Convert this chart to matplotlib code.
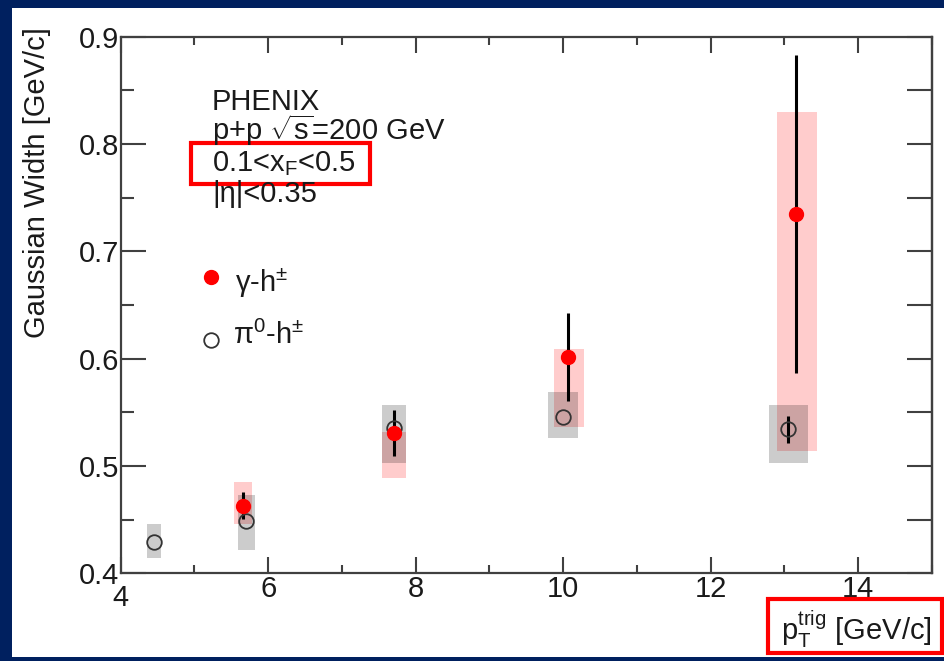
import numpy as np
import matplotlib
matplotlib.use("Agg")
import matplotlib.pyplot as plt
from matplotlib.patches import Rectangle
from matplotlib.transforms import ScaledTranslation

plt.rcParams["font.family"] = ["Liberation Sans", "DejaVu Sans"]
plt.rcParams["mathtext.fontset"] = "custom"
plt.rcParams["mathtext.rm"] = "Liberation Sans"
plt.rcParams["mathtext.it"] = "Liberation Sans:italic"
plt.rcParams["mathtext.sf"] = "Liberation Sans"

# gamma-h widths vs trigger pT
gamma_pt = [5.66, 7.71, 10.07, 13.16]
gamma_width = [0.463, 0.531, 0.602, 0.735]
gamma_stat = [0.0125, 0.0215, 0.041, 0.148]
gamma_sys_lo = [0.446, 0.4885, 0.536, 0.514]
gamma_sys_hi = [0.485, 0.532, 0.609, 0.830]
gamma_box_pt = [5.655, 7.71, 10.08, 13.17]
gamma_box_hw = [0.125, 0.16, 0.2, 0.275]

# pi0-h widths vs trigger pT
pi0_pt = [4.45, 5.70, 7.71, 10.0, 13.055]
pi0_width = [0.429, 0.449, 0.535, 0.5455, 0.534]
pi0_stat = [0.0, 0.0, 0.0, 0.0, 0.0128]
pi0_sys_lo = [0.4147, 0.422, 0.503, 0.526, 0.503]
pi0_sys_hi = [0.4455, 0.473, 0.557, 0.569, 0.5564]
pi0_box_hw = [0.095, 0.115, 0.16, 0.2, 0.26]

NAVY = "#00205f"
TXT = "#1a1a1a"
FS = 21

fig = plt.figure(figsize=(9.45, 6.61), dpi=100, facecolor=NAVY)
W, H = 945.0, 661.0
fig.patches.append(Rectangle((12 / W, 1 - 657 / H), 1 - 12 / W, (657 - 8) / H,
                             transform=fig.transFigure, facecolor="white",
                             edgecolor="none", zorder=-10))

ax = fig.add_axes([120.7 / W, 1 - 573.3 / H, (931.8 - 120.7) / W, (573.3 - 36.7) / H])
ax.set_facecolor("none")
ax.set_xlim(4, 15)
ax.set_ylim(0.4, 0.9)

# systematic boxes
for x, lo, hi, hw in zip(gamma_box_pt, gamma_sys_lo, gamma_sys_hi, gamma_box_hw):
    ax.add_patch(Rectangle((x - hw, lo), 2 * hw, hi - lo, facecolor="red",
                           alpha=0.2, edgecolor="none", zorder=1))
for x, lo, hi, hw in zip(pi0_pt, pi0_sys_lo, pi0_sys_hi, pi0_box_hw):
    ax.add_patch(Rectangle((x - hw, lo), 2 * hw, hi - lo, facecolor="black",
                           alpha=0.2, edgecolor="none", zorder=1))

# statistical errors and points
ax.errorbar(pi0_pt, pi0_width, yerr=pi0_stat, fmt="none", ecolor="black",
            elinewidth=2.2, capsize=0, zorder=2)
ax.errorbar(gamma_pt, gamma_width, yerr=gamma_stat, fmt="none", ecolor="black",
            elinewidth=2.2, capsize=0, zorder=2)
ax.plot(pi0_pt, pi0_width, "o", ms=10.5, mfc="none", mec="#333333", mew=1.3, zorder=3)
ax.plot(gamma_pt, gamma_width, "o", ms=10, mfc="red", mec="red", zorder=4)

for s in ax.spines.values():
    s.set_color("#404040")
    s.set_linewidth(1.6)

ax.set_xticks(np.arange(4, 15, 2))
ax.set_xticks(np.arange(4, 16, 1), minor=True)
ax.set_yticks(np.arange(0.4, 0.91, 0.1))
ax.set_yticks(np.arange(0.4, 0.91, 0.05), minor=True)
ax.xaxis.set_major_formatter(matplotlib.ticker.FormatStrFormatter("%d"))
ax.yaxis.set_major_formatter(matplotlib.ticker.FormatStrFormatter("%.1f"))
ax.tick_params(axis="x", which="major", direction="in", length=11.5, width=1.5,
               top=True, labelsize=FS, pad=1, color="#404040", labelcolor=TXT)
ax.tick_params(axis="x", which="minor", direction="in", length=5.8, width=1.5,
               top=True, color="#404040")
ax.tick_params(axis="y", which="major", direction="in", length=18, width=1.5,
               labelsize=FS, pad=1, color="#404040", labelcolor=TXT)
ax.tick_params(axis="y", which="minor", direction="in", length=9.4, width=1.5,
               color="#404040")

# push the corner "4" below the "0.4"
first = ax.xaxis.get_major_ticks()[0].label1
first.set_transform(first.get_transform() + ScaledTranslation(0, -0.09, fig.dpi_scale_trans))

# right axis carries equal-length ticks
sec = ax.secondary_yaxis("right")
sec.set_yticks(np.arange(0.4, 0.91, 0.05))
sec.tick_params(direction="in", length=18, width=1.5, labelright=False, color="#404040")
sec.spines["right"].set_color("#404040")
sec.spines["right"].set_linewidth(1.6)

# axis titles
fig.text(37 / W, 1 - 27 / H, "Gaussian Width [GeV/c]", rotation=90,
         ha="center", va="top", fontsize=FS, color=TXT)
fig.text(932 / W, 1 - 640 / H, r"p$_{\mathregular{T}}^{\mathregular{trig}}$ [GeV/c]",
         ha="right", va="baseline", fontsize=FS, color=TXT)

# header text
lines = ["PHENIX", r"p+p $\sqrt{\mathregular{s}}$=200 GeV",
         r"0.1<x$_{\mathregular{F}}$<0.5", "|η|<0.35"]
baselines = [109.5, 140.5, 171, 201.5]
for t, b in zip(lines, baselines):
    fig.text(212 / W, 1 - b / H, t, ha="left", va="baseline", fontsize=FS, color=TXT)

# legend
fig.lines.append(plt.Line2D([211 / W], [1 - 277 / H], marker="o", ms=10, mfc="red",
                            mec="red", transform=fig.transFigure))
fig.lines.append(plt.Line2D([211 / W], [1 - 340 / H], marker="o", ms=10.5, mfc="none",
                            mec="#333333", mew=1.3, transform=fig.transFigure))
fig.text(235 / W, 1 - 291.5 / H, r"γ-h$^{\pm}$", ha="left", va="baseline",
         fontsize=FS, color=TXT)
fig.text(233 / W, 1 - 343.5 / H, r"π$^{0}$-h$^{\pm}$", ha="left", va="baseline",
         fontsize=FS, color=TXT)

# highlight frames
fig.patches.append(Rectangle((191 / W, 1 - 184 / H), 179 / W, 41 / H,
                             transform=fig.transFigure, facecolor="none",
                             edgecolor="#ff0000", linewidth=3))
fig.patches.append(Rectangle((767.5 / W, 1 - 653 / H), 174 / W, 54 / H,
                             transform=fig.transFigure, facecolor="none",
                             edgecolor="#ff0000", linewidth=3))

fig.savefig("out.png", dpi=100, facecolor=NAVY)
